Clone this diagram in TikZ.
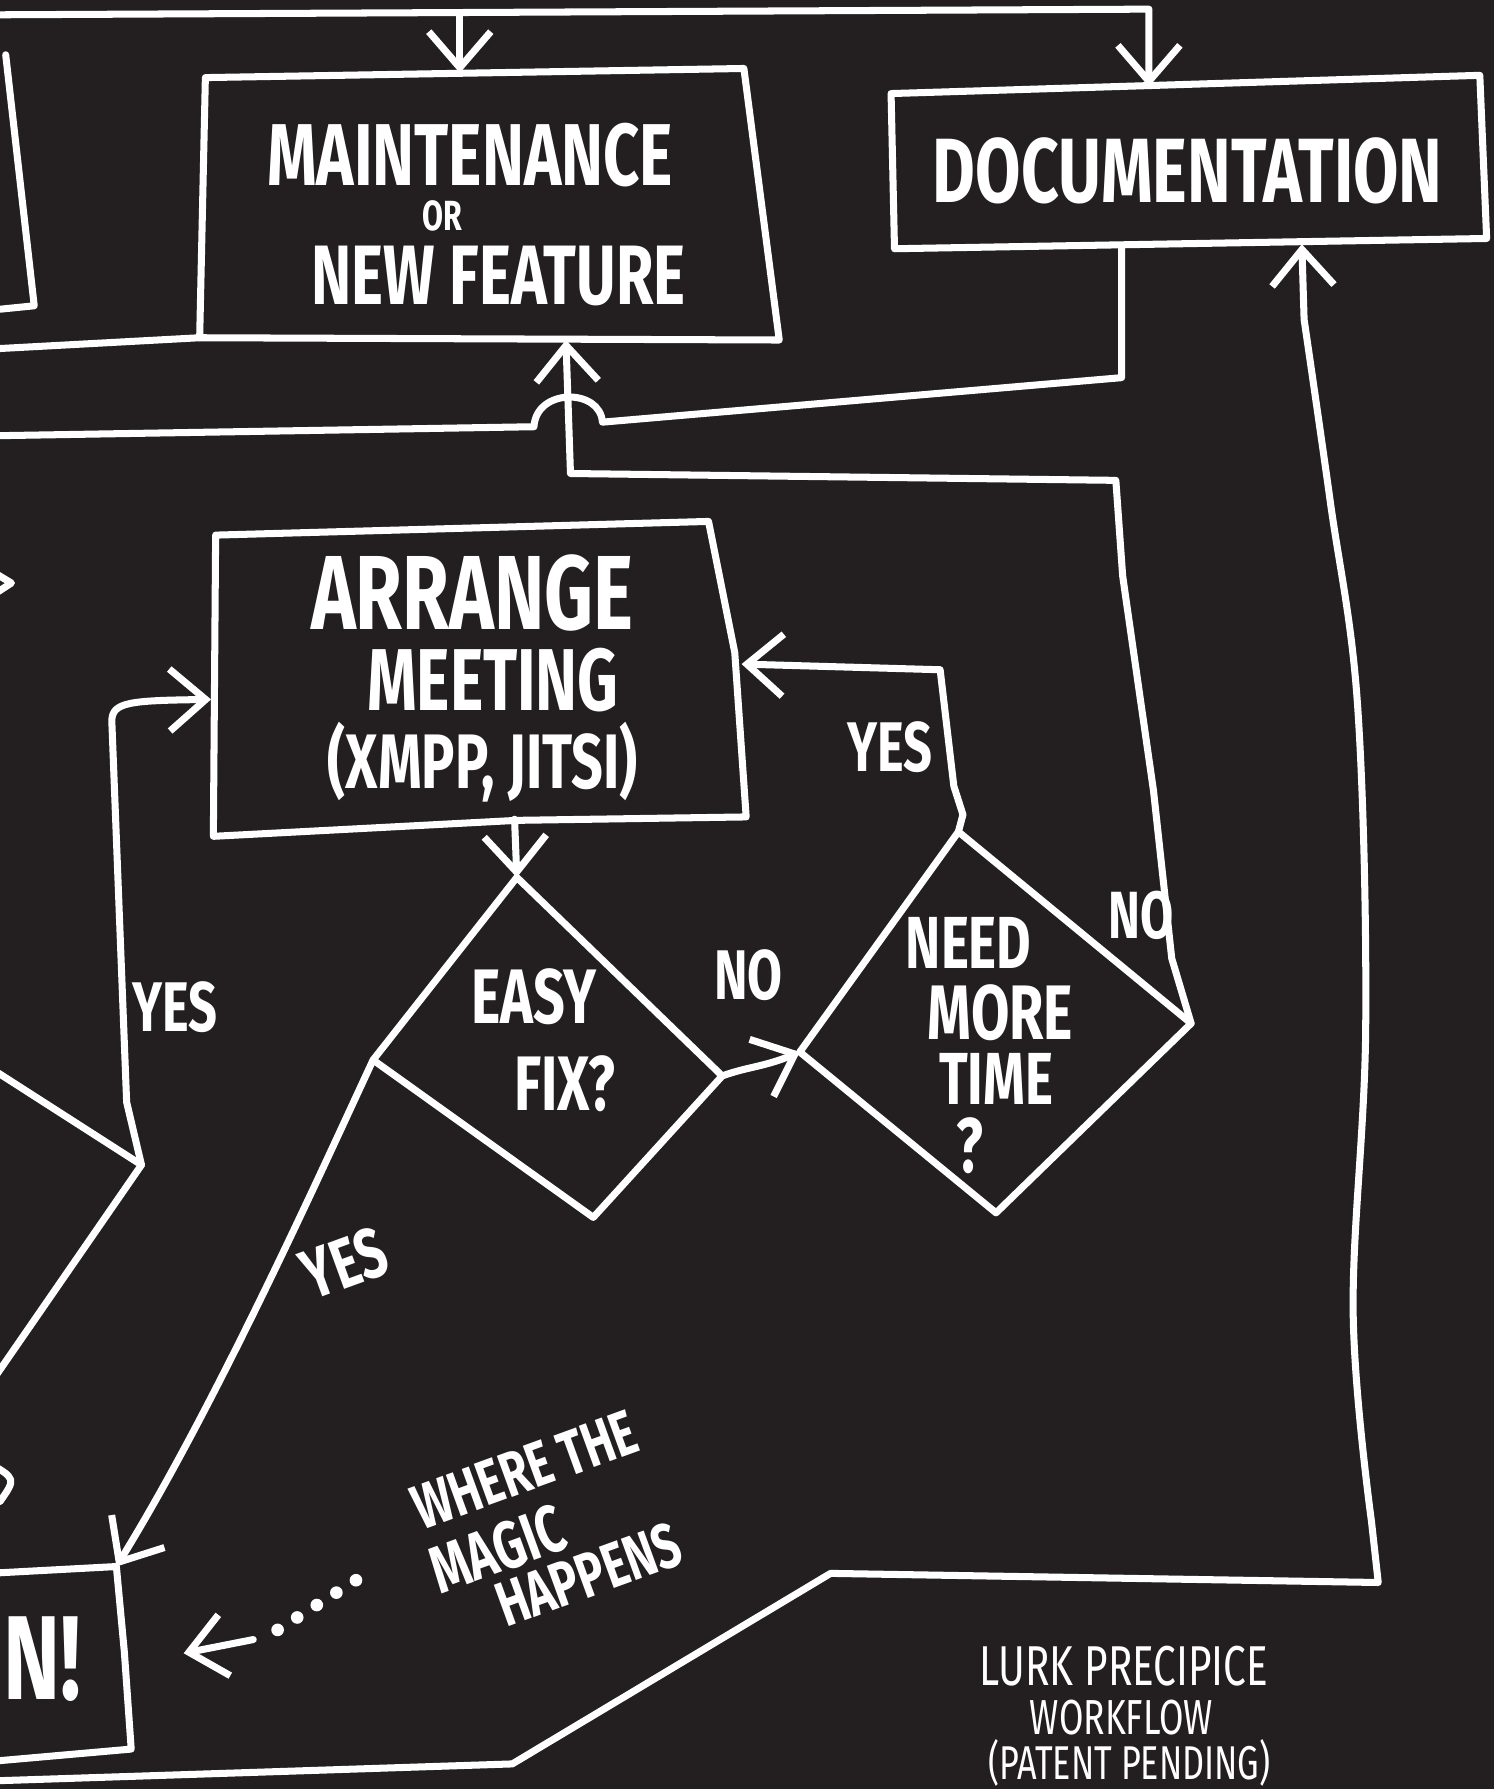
\documentclass[tikz,border=0pt]{standalone}
\usepackage{fontspec}
\usetikzlibrary{arrows.meta, positioning}
\newfontfamily\handfont[FakeStretch=0.72]{Fira Sans}
\definecolor{board}{HTML}{231F20}

\begin{document}
\begin{tikzpicture}[x=0.011406cm, y=-0.011406cm,
		stroke/.style={draw=white, line width=2pt, line cap=round, line join=round},
		flow/.style={stroke, -{Straight Barb[length=3.6mm, width=6.2mm]}},
		dots/.style={stroke, line width=3.6pt, dash pattern=on 0pt off 6.6pt},
		hand/.style={text=white, inner sep=0pt, font=\handfont\bfseries\fontsize{#1}{#1}\selectfont},
		note/.style={text=white, inner sep=0pt, font=\handfont\fontsize{#1}{#1}\selectfont}
		]
		\fill[board] (0,0) rectangle (1309,1568);
		\useasboundingbox (0,0) rectangle (1309,1568);
		
		% corners of the boxes and diamonds
		\coordinate (mt-nw) at (180,68);
		\coordinate (mt-ne) at (652,60);
		\coordinate (mt-se) at (683,298);
		\coordinate (mt-sw) at (175,296);
		\coordinate (mt-n) at (403,64);
		\coordinate (mt-s) at (496,298);
		
		\coordinate (dc-nw) at (781,82);
		\coordinate (dc-ne) at (1297,66);
		\coordinate (dc-se) at (1303,209);
		\coordinate (dc-sw) at (784,218);
		\coordinate (dc-n) at (1007,76);
		\coordinate (dc-s1) at (983,216);
		\coordinate (dc-s2) at (1141,214);
		
		\coordinate (ar-nw) at (189,469);
		\coordinate (ar-ne) at (621,457);
		\coordinate (ar-se) at (654,716);
		\coordinate (ar-sw) at (187,733);
		\coordinate (ar-w) at (185,613);
		\coordinate (ar-e) at (650,582);
		\coordinate (ar-s) at (451,718);
		
		\coordinate (ez-n) at (453,769);
		\coordinate (ez-w) at (327,929);
		\coordinate (ez-s) at (520,1067);
		\coordinate (ez-e) at (633,943);
		
		\coordinate (nt-n) at (840,729);
		\coordinate (nt-w) at (701,922);
		\coordinate (nt-s) at (873,1063);
		\coordinate (nt-e) at (1044,897);
		
		\coordinate (ldia-e) at (124,1021);
		\coordinate (ship-ne) at (102,1373);
		
		\draw[stroke] (mt-nw) -- (mt-ne) -- (mt-se) -- (mt-sw) -- cycle;
		\draw[stroke] (dc-nw) -- (dc-ne) -- (dc-se) -- (dc-sw) -- cycle;
		\draw[stroke] (ar-nw) -- (ar-ne) -- (644,572) -- (ar-se) -- (453,719) -- (ar-sw) -- cycle;
		\draw[stroke] (ez-n) -- (ez-e) -- (ez-s) -- (ez-w) -- cycle;
		\draw[stroke] (nt-n) -- (nt-e) -- (nt-s) -- (nt-w) -- cycle;
		
		\node [hand=25](maint) at (412,136) {MAINTENANCE};
		\node [hand=12](or) at (388,189) {OR};
		\node [hand=24](feature) at (437,242) {NEW FEATURE};
		\node [hand=26](docu) at (1041,150) {DOCUMENTATION};
		\node [hand=30](arrange) at (414,520) {ARRANGE};
		\node [hand=25](meeting) at (432,596) {MEETING};
		\node [hand=22](xmpp) at (423,668) {(XMPP, JITSI)};
		\node [hand=22](easy) at (468,874) {EASY};
		\node [hand=22](fix) at (495,950) {FIX?};
		\node [hand=20](no1) at (656,855) {NO};
		\node [hand=21](need) at (849,826) {NEED};
		\node [hand=22](more) at (877,888) {MORE};
		\node [hand=21](time) at (873,946) {TIME};
		\node [hand=22](qm) at (850,1004) {?};
		\node [hand=19](no2) at (1000,802) {NO};
		\node [hand=20](yes1) at (780,655) {YES};
		\node [hand=20](yes2) at (153,883) {YES};
		\node [hand=20, rotate=20](yes3) at (302,1107) {YES};
		\node [hand=34](ship) at (37,1454) {N!};
		\node [hand=18, rotate=20](where) at (460,1288) {WHERE THE};
		\node [hand=19, rotate=20](magic) at (436,1358) {MAGIC};
		\node [hand=18, rotate=20](happens) at (516,1380) {HAPPENS};
		\node [note=16](lurk) at (985,1460) {LURK PRECIPICE};
		\node [note=14](workflow) at (983,1505) {WORKFLOW};
		\node [note=13.5](patent) at (990,1545) {(PATENT PENDING)};
		
		% lines coming in from the left edge
		\draw[stroke] (5,48) -- (30,268) -- (-10,272);
		\draw[stroke] (-10,306) -- (mt-sw);
		\draw[stroke] (-10,499) -- (10,511) -- (-10,524);
		\draw[stroke] (-10,935) -- (ldia-e) -- (-10,1215);
		\draw[stroke] (-10,1282) .. controls (14,1296) .. (0,1316);
		\draw[stroke] (-10,1379) -- (ship-ne) -- (109,1448) -- (115,1533) -- (-10,1544);
		
		\draw[flow] (-10,13) -- (1007,8) -- (dc-n);
		\draw[flow] (403,12) -- (mt-n);
		\draw[stroke] (-10,382) -- (468,374) .. controls (470,340) and (526,340) .. (528,370) -- (983,331) -- (dc-s1);
		\draw[flow] (nt-e) -- (1027,840) -- (1011,693) -- (984,505) -- (978,421) -- (500,415) -- (mt-s);
		
		\draw[flow] (ar-s) -- (ez-n);
		\draw[flow] (ez-e) .. controls (655,935) and (670,935) .. (nt-w);
		\draw[flow] (nt-n) -- (844,714) -- (836,689) -- (824,587) -- (ar-e);
		\draw[flow] (ldia-e) -- (111,966) -- (98,632) .. controls (98,615) and (115,614) .. (ar-w);
		\draw[flow] (ez-w) .. controls (280,1030) and (190,1230) .. (ship-ne);
		
		\draw[dots] (312,1385) -- (241,1430);
		\draw[flow] (222,1437) -- (161,1449);
		
		\draw[flow] (-10,1561) -- (449,1546) -- (728,1379) -- (1208,1387)
			-- plot[smooth, tension=0.6] coordinates {(1202,1333) (1186,1150) (1197,900) (1190,620) (1166,440) (1143,280)} -- (dc-s2);
		
	\end{tikzpicture}
\end{document}
